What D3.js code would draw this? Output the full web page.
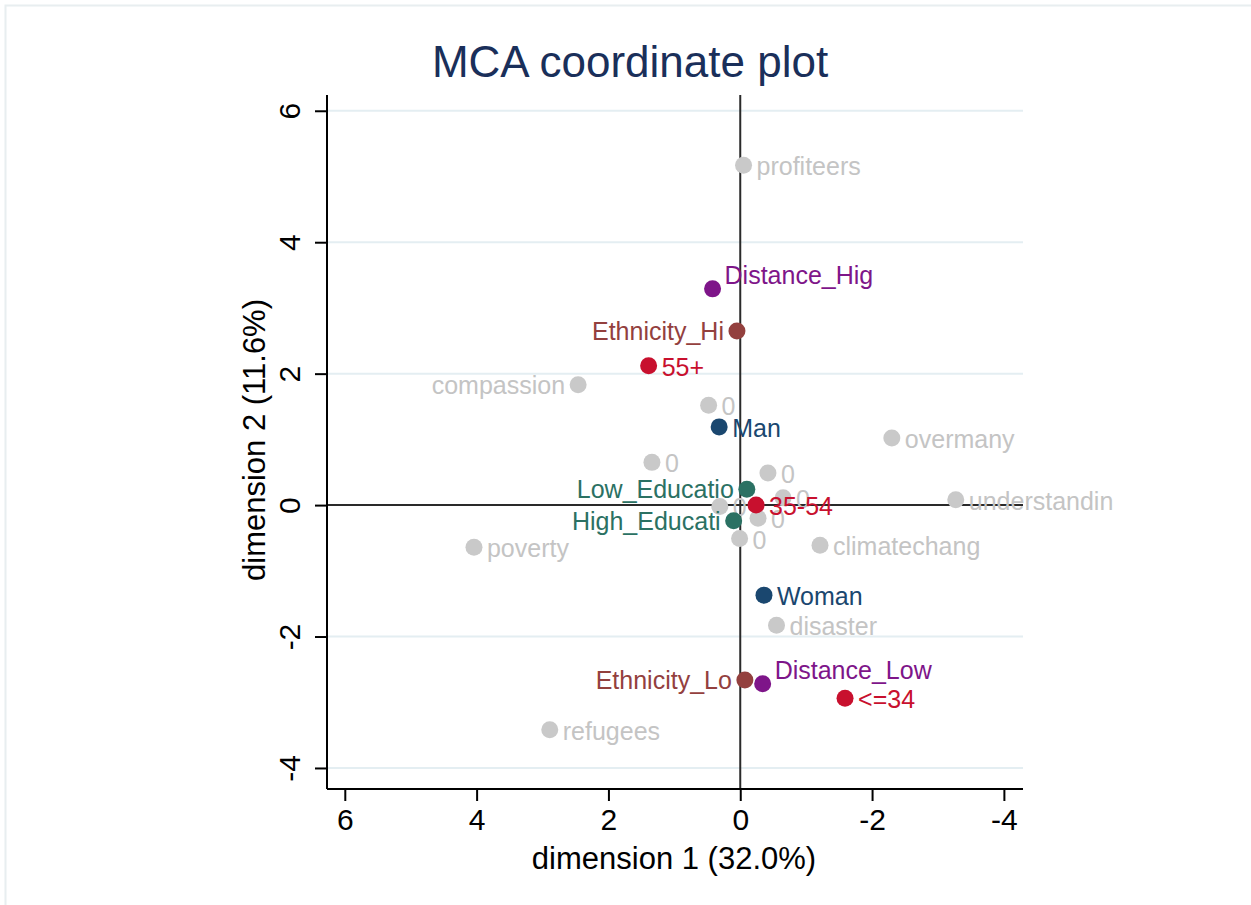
<!DOCTYPE html>
<html>
<head>
<meta charset="utf-8">
<script src="https://cdn.jsdelivr.net/npm/d3@7"></script>
<style>
  body { margin: 0; background: #fff; }
  svg { display: block; font-family: "Liberation Sans", Arial, Helvetica, sans-serif; }
</style>
</head>
<body>
<div id="chart"></div>
<script>
// categories (labels), coordinates on dimension 1 and 2, group of each point
const labels = ["profiteers", "compassion", "0", "overmany", "0", "0", "understandin", "0", "0", "0", "0", "climatechang", "poverty", "disaster", "refugees",
  "Distance_Hig", "Ethnicity_Hi", "55+", "Man", "Low_Educatio", "35-54", "High_Educati", "Woman", "Ethnicity_Lo", "Distance_Low", "<=34"];
const dim1 = [-0.05, 2.46, 0.48, -2.30, 1.34, -0.42, -3.27, -0.65, 0.31, -0.27, 0.01, -1.21, 4.04, -0.55, 2.89,
  0.42, 0.05, 1.39, 0.32, -0.10, -0.24, 0.10, -0.36, -0.07, -0.34, -1.59];
const dim2 = [5.17, 1.83, 1.52, 1.02, 0.65, 0.49, 0.08, 0.11, -0.02, -0.20, -0.51, -0.61, -0.64, -1.83, -3.42,
  3.29, 2.65, 2.12, 1.19, 0.24, 0.00, -0.24, -1.37, -2.66, -2.72, -2.94];
const groups = ["q", "q", "q", "q", "q", "q", "q", "q", "q", "q", "q", "q", "q", "q", "q",
  "dist", "eth", "age", "sex", "edu", "age", "edu", "sex", "eth", "dist", "age"];
// label position (clock style): 3 right, 9 left, 2 upper right
const labelPos = [3, 9, 3, 3, 3, 3, 3, 3, 3, 3, 3, 3, 3, 3, 3,
  2, 9, 3, 3, 9, 3, 9, 3, 9, 2, 3];

const xTicks = [6, 4, 2, 0, -2, -4];
const yTicks = [6, 4, 2, 0, -2, -4];

const colors = { q: "#c9c9c9", dist: "#7e1589", eth: "#93403e", age: "#c8102e", sex: "#1a476f", edu: "#2b7163" };
const labelColors = { q: "#c4c4c4", dist: "#7e1589", eth: "#93403e", age: "#c8102e", sex: "#1a476f", edu: "#2b7163" };

const W = 1251, H = 905;
const pLeft = 327, pRight = 1023, pTop = 95, pBottom = 789;

const svg = d3.select("#chart").append("svg").attr("width", W).attr("height", H);

// faint outer frame
svg.append("path").attr("d", `M5.5,${H} V5.5 H${W}`).attr("fill", "none").attr("stroke", "#e8eef0").attr("stroke-width", 2);

const x = d3.scaleLinear().domain([6.27, -4.29]).range([pLeft, pRight]);
const y = d3.scaleLinear().domain([-4.32, 6.24]).range([pBottom, pTop]);
const fmt = d => d < 0 ? "-" + Math.abs(d) : String(d);

// gridlines
svg.append("g").selectAll("line").data(yTicks).join("line")
  .attr("x1", pLeft).attr("x2", pRight)
  .attr("y1", d => y(d)).attr("y2", d => y(d))
  .attr("stroke", "#e4eef2").attr("stroke-width", 2);

// zero reference lines
svg.append("line").attr("x1", pLeft).attr("x2", pRight).attr("y1", y(0)).attr("y2", y(0))
  .attr("stroke", "#2a2a2a").attr("stroke-width", 2);
svg.append("line").attr("x1", x(0)).attr("x2", x(0)).attr("y1", pTop).attr("y2", pBottom)
  .attr("stroke", "#2a2a2a").attr("stroke-width", 2);

// axes
const xAxis = svg.append("g").attr("transform", `translate(0,${pBottom})`)
  .call(d3.axisBottom(x).tickValues(xTicks).tickSize(12).tickPadding(8).tickSizeOuter(0).tickFormat(fmt));
xAxis.select(".domain").attr("d", `M${pLeft},0H${pRight}`).attr("stroke", "#000").attr("stroke-width", 2);
xAxis.selectAll(".tick line").attr("stroke", "#000").attr("stroke-width", 2);
xAxis.selectAll(".tick text").attr("font-size", 30).attr("fill", "#000").attr("font-family", "Liberation Sans, Arial, sans-serif");

const yAxis = svg.append("g").attr("transform", `translate(${pLeft},0)`)
  .call(d3.axisLeft(y).tickValues(yTicks).tickSize(12).tickSizeOuter(0).tickFormat(fmt));
yAxis.select(".domain").attr("d", `M0,${pTop}V${pBottom}`).attr("stroke", "#000").attr("stroke-width", 2);
yAxis.selectAll(".tick line").attr("stroke", "#000").attr("stroke-width", 2);
yAxis.selectAll(".tick text")
  .attr("font-size", 30).attr("fill", "#000").attr("font-family", "Liberation Sans, Arial, sans-serif")
  .attr("x", null).attr("dy", null)
  .attr("text-anchor", "middle").attr("dominant-baseline", "central")
  .attr("transform", "translate(-38,0) rotate(-90)");

// axis titles
svg.append("text").attr("x", 674).attr("y", 869).attr("text-anchor", "middle")
  .attr("font-size", 31).attr("fill", "#000").text("dimension 1 (32.0%)");
svg.append("text").attr("transform", `translate(265,440) rotate(-90)`)
  .attr("text-anchor", "middle").attr("font-size", 31).attr("fill", "#000").text("dimension 2 (11.6%)");

// title
svg.append("text").attr("x", 630).attr("y", 77).attr("text-anchor", "middle")
  .attr("font-size", 44).attr("fill", "#1a2f5a").text("MCA coordinate plot");

// points
const pts = labels.map((l, i) => ({ label: l, x: dim1[i], y: dim2[i], g: groups[i], pos: labelPos[i] }));
const order = pts.slice().sort((a, b) => (a.g === "q" ? 0 : 1) - (b.g === "q" ? 0 : 1));

const pg = svg.append("g");
order.forEach(p => {
  const cx = x(p.x), cy = y(p.y);
  pg.append("circle").attr("cx", cx).attr("cy", cy).attr("r", 8.5).attr("fill", colors[p.g]);
  const t = pg.append("text").attr("font-size", 25).attr("fill", labelColors[p.g])
    .attr("dominant-baseline", "central").text(p.label);
  if (p.pos === 9) t.attr("x", cx - 13).attr("y", cy).attr("text-anchor", "end");
  else if (p.pos === 2) t.attr("x", cx + 12).attr("y", cy - 14).attr("text-anchor", "start");
  else t.attr("x", cx + 13).attr("y", cy + 1).attr("text-anchor", "start");
});
</script>
</body>
</html>
